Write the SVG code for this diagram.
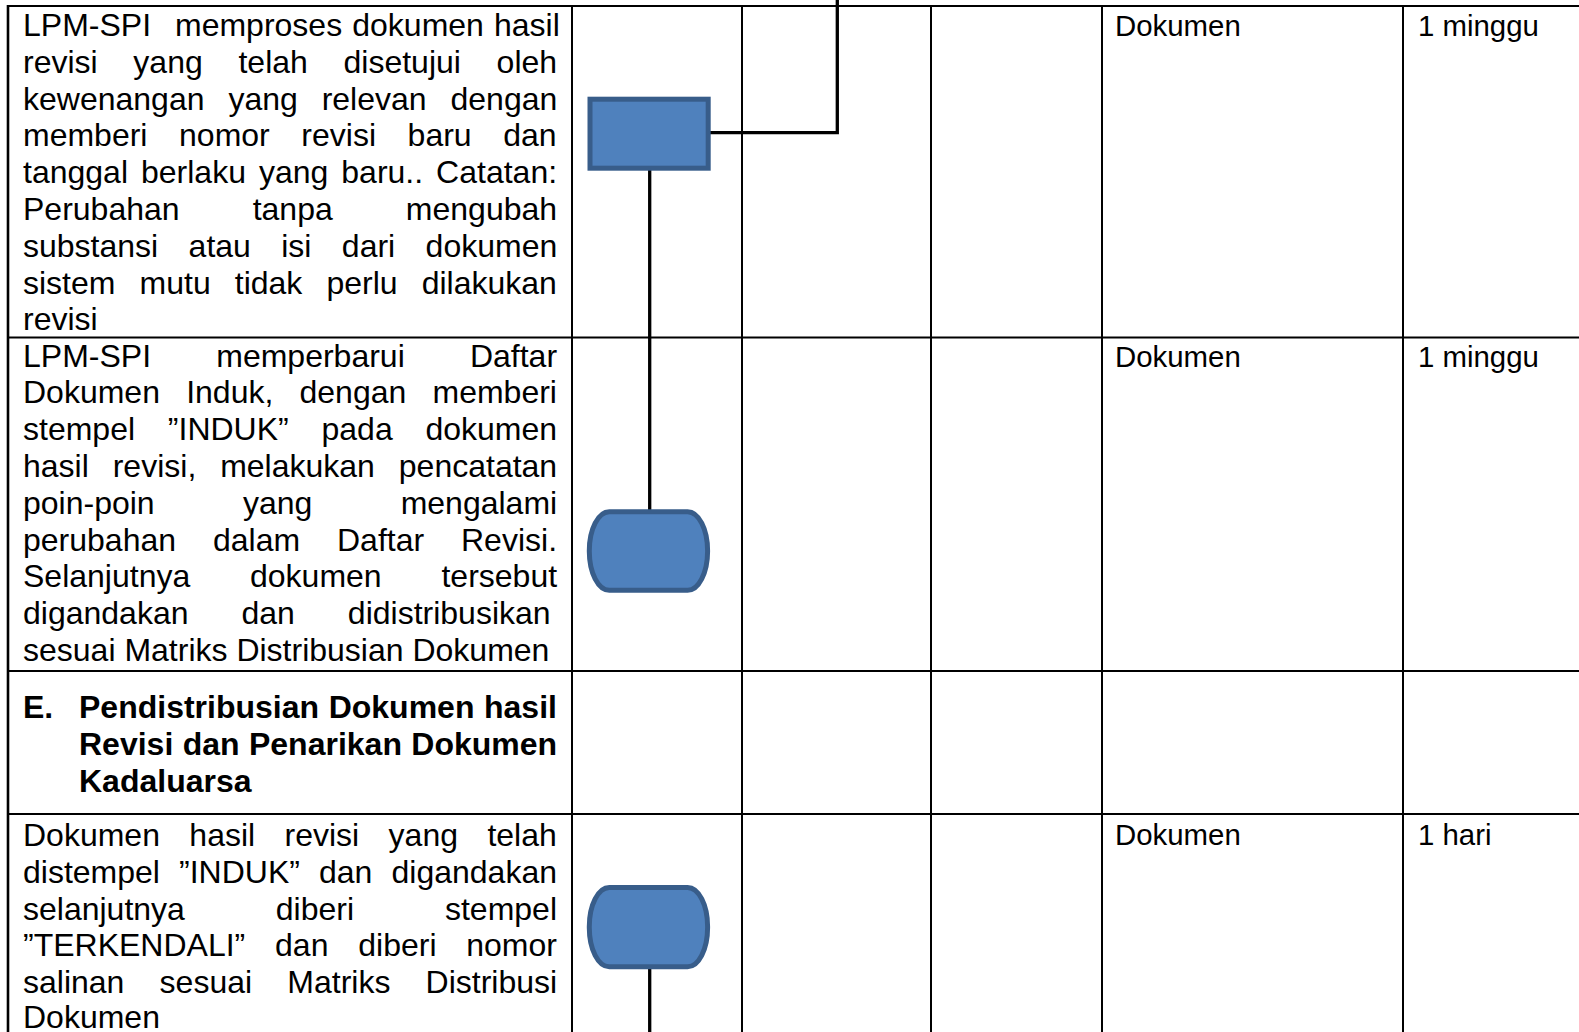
<svg xmlns="http://www.w3.org/2000/svg" width="1579" height="1032" viewBox="0 0 1579 1032">
<style>
.grid line{stroke:#000;stroke-width:2}
.t{font-family:"Liberation Sans",Arial,sans-serif;font-size:32px;fill:#000}
.b{font-weight:bold}
.r{font-family:"Liberation Sans",Arial,sans-serif;font-size:29.4px;fill:#000}
.shape{fill:#4F81BD;stroke:#385D8A;stroke-width:5}
.conn{fill:none;stroke:#000;stroke-width:3.3}
</style>
<rect width="1579" height="1032" fill="#fff"/>
<g id="table" class="grid">
<line x1="7" y1="6" x2="1579" y2="6"/>
<line x1="7" y1="337.5" x2="1579" y2="337.5"/>
<line x1="7" y1="671" x2="1579" y2="671"/>
<line x1="7" y1="814" x2="1579" y2="814"/>
<line x1="8" y1="5" x2="8" y2="1032" style="stroke-width:2.6"/>
<line x1="572" y1="5" x2="572" y2="1032"/>
<line x1="742" y1="5" x2="742" y2="1032"/>
<line x1="931" y1="5" x2="931" y2="1032"/>
<line x1="1102" y1="5" x2="1102" y2="1032"/>
<line x1="1403" y1="5" x2="1403" y2="1032"/>
</g>
<g id="connectors">
<polyline class="conn" points="837.3,0 837.3,132.7 708,132.7"/>
<line class="conn" x1="649.7" y1="170" x2="649.7" y2="511"/>
<line class="conn" x1="649.7" y1="968" x2="649.7" y2="1032"/>
</g>
<g id="node-process">
<rect class="shape" x="590" y="99.2" width="118.2" height="69"/>
</g>
<g id="node-terminator-1">
<rect class="shape" x="589.3" y="511.8" width="118.3" height="78.5" rx="20" ry="39"/>
</g>
<g id="node-terminator-2">
<rect class="shape" x="589.3" y="887.5" width="118.3" height="79.3" rx="20" ry="39"/>
</g>
<g id="row1-text" class="t">
<text x="23" y="36" word-spacing="1.2">LPM-SPI <tspan x="175">memproses dokumen hasil</tspan></text>
<text x="23" y="72.8" word-spacing="26.8">revisi yang telah disetujui oleh</text>
<text x="23" y="109.6" word-spacing="15">kewenangan yang relevan dengan</text>
<text x="23" y="146.4" word-spacing="22.7">memberi nomor revisi baru dan</text>
<text x="23" y="183.2" word-spacing="4.1">tanggal berlaku yang baru.. Catatan:</text>
<text x="23" y="220" word-spacing="64.2">Perubahan tanpa mengubah</text>
<text x="23" y="256.8" word-spacing="21.5">substansi atau isi dari dokumen</text>
<text x="23" y="293.6" word-spacing="15.2">sistem mutu tidak perlu dilakukan</text>
<text x="23" y="330.4">revisi</text>
</g>
<g id="row2-text" class="t">
<text x="23" y="366.6" word-spacing="56.3">LPM-SPI memperbarui Daftar</text>
<text x="23" y="403.4" word-spacing="17.3">Dokumen Induk, dengan memberi</text>
<text x="23" y="440.2" word-spacing="23.9">stempel ”INDUK” pada dokumen</text>
<text x="23" y="477" word-spacing="15">hasil revisi, melakukan pencatatan</text>
<text x="23" y="513.8" word-spacing="79.4">poin-poin yang mengalami</text>
<text x="23" y="550.6" word-spacing="28">perubahan dalam Daftar Revisi.</text>
<text x="23" y="587.4" word-spacing="50.9">Selanjutnya dokumen tersebut</text>
<text x="23" y="624.2" word-spacing="44.1">digandakan dan didistribusikan</text>
<text x="23" y="661">sesuai Matriks Distribusian Dokumen</text>
</g>
<g id="row3-text" class="t b">
<text x="23" y="718">E.</text>
<text x="79" y="718" word-spacing="0.7">Pendistribusian Dokumen hasil</text>
<text x="79" y="754.8" word-spacing="0.5">Revisi dan Penarikan Dokumen</text>
<text x="79" y="791.6">Kadaluarsa</text>
</g>
<g id="row4-text" class="t">
<text x="23" y="846" word-spacing="20.5">Dokumen hasil revisi yang telah</text>
<text x="23" y="882.8" word-spacing="10.2">distempel ”INDUK” dan digandakan</text>
<text x="23" y="919.6" word-spacing="82">selanjutnya diberi stempel</text>
<text x="23" y="956.4" word-spacing="20.9">”TERKENDALI” dan diberi nomor</text>
<text x="23" y="993.2" word-spacing="26.3">salinan sesuai Matriks Distribusi</text>
<text x="23" y="1028">Dokumen</text>
</g>
<g id="right-columns" class="r">
<text x="1115" y="35.7">Dokumen</text>
<text x="1418" y="35.7">1 minggu</text>
<text x="1115" y="367">Dokumen</text>
<text x="1418" y="367">1 minggu</text>
<text x="1115" y="845">Dokumen</text>
<text x="1418" y="845">1 hari</text>
</g>
</svg>
